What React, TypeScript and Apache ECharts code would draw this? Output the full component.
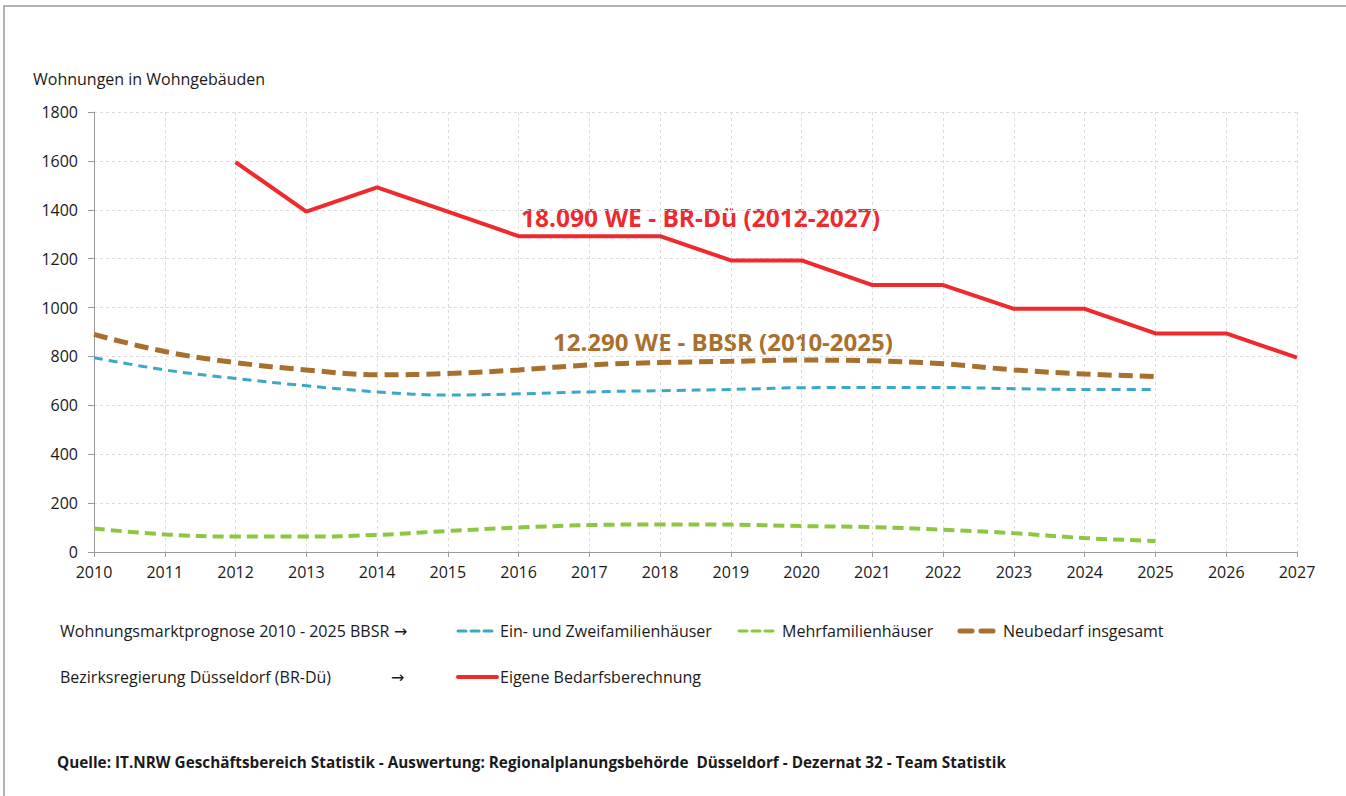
import React, { useEffect, useRef } from "react";
import * as echarts from "echarts";

const years = ["2010","2011","2012","2013","2014","2015","2016","2017","2018","2019","2020","2021","2022","2023","2024","2025","2026","2027"];
const einZwei = [795, 745, 710, 680, 655, 642, 647, 655, 660, 665, 672, 673, 673, 668, 665, 665, null, null];
const mehr = [96, 72, 63, 63, 70, 86, 100, 110, 113, 112, 106, 102, 91, 77, 57, 45, null, null];
const neubedarf = [890, 820, 775, 745, 725, 730, 745, 765, 775, 780, 785, 782, 770, 745, 728, 718, null, null];
const eigene = [null, null, 1595, 1392, 1492, 1392, 1292, 1292, 1292, 1193, 1193, 1092, 1092, 995, 995, 894, 894, 795];

const yTicks = { min: 0, max: 1800, interval: 200 };

const RED = "#EE2A2E";
const BLUE = "#3BA7C9";
const GREEN = "#8DC641";
const BROWN = "#A8702F";
const FONT = "'Open Sans', 'Noto Sans', sans-serif";
const ARROW_FONT = "'DejaVu Sans', sans-serif";
const TXT = "#1a1a1a";

export default function App() {
  const ref = useRef<HTMLDivElement>(null);
  useEffect(() => {
    const chart = echarts.init(ref.current!, null, { renderer: "svg" });
    const legendText = (x: number, y: number, text: string, font: string = `16px ${FONT}`) => ({
      type: "text", x, y,
      style: { text, fill: TXT, font, verticalAlign: "middle", align: "left" },
    });
    const legendLine = (x: number, y: number, len: number, color: string, width: number, dash: number[] | null) => ({
      type: "line",
      shape: { x1: x, y1: y, x2: x + len, y2: y },
      style: { stroke: color, lineWidth: width, lineDash: dash || undefined, lineCap: "round" },
    });
    chart.setOption({
      animation: false,
      backgroundColor: "#ffffff",
      grid: { left: 94, right: 49, top: 112, bottom: 244, containLabel: false },
      xAxis: {
        type: "category",
        data: years,
        boundaryGap: false,
        axisLine: { show: true, lineStyle: { color: "#9a9a9a", width: 1 } },
        axisTick: { show: true, length: 5, lineStyle: { color: "#9a9a9a" } },
        axisLabel: { color: TXT, fontSize: 16, fontFamily: FONT, margin: 12 },
        splitLine: { show: true, lineStyle: { color: "#dcdcdc", type: [3, 3] } },
      },
      yAxis: {
        type: "value",
        ...yTicks,
        axisLine: { show: true, lineStyle: { color: "#9a9a9a", width: 1 } },
        axisTick: { show: true, length: 6, lineStyle: { color: "#9a9a9a" } },
        axisLabel: { color: TXT, fontSize: 16, fontFamily: FONT, margin: 16, formatter: (v: number) => String(v) },
        splitLine: { show: true, lineStyle: { color: "#dcdcdc", type: [3, 3] } },
      },
      series: [
        {
          name: "Ein- und Zweifamilienhäuser", type: "line", data: einZwei, smooth: 0.4,
          symbol: "none", lineStyle: { color: BLUE, width: 3, type: [9, 6] },
        },
        {
          name: "Mehrfamilienhäuser", type: "line", data: mehr, smooth: 0.4,
          symbol: "none", lineStyle: { color: GREEN, width: 4, type: [11, 6] },
        },
        {
          name: "Neubedarf insgesamt", type: "line", data: neubedarf, smooth: 0.4,
          symbol: "none", lineStyle: { color: BROWN, width: 5, type: [14, 7] },
        },
        {
          name: "Eigene Bedarfsberechnung", type: "line", data: eigene,
          symbol: "none", lineStyle: { color: RED, width: 4 },
        },
      ],
      graphic: [
        {
          type: "polyline",
          shape: { points: [[4, 796], [4, 6], [1346, 6]] },
          style: { stroke: "#9a9a9a", lineWidth: 1.5, fill: "none" },
        },
        legendText(33, 79, "Wohnungen in Wohngebäuden"),
        { type: "text", x: 521, y: 217, style: { text: "18.090 WE - BR-Dü (2012-2027)", fill: RED, font: `bold 24.5px ${FONT}`, verticalAlign: "middle" } },
        { type: "text", x: 553, y: 341, style: { text: "12.290 WE - BBSR (2010-2025)", fill: BROWN, font: `bold 24px ${FONT}`, verticalAlign: "middle" } },
        legendText(60, 631, "Wohnungsmarktprognose 2010 - 2025 BBSR"),
        legendText(394, 631, "\u2192", `16px ${ARROW_FONT}`),
        legendLine(458, 631, 39, BLUE, 3, [8, 5]),
        legendText(500, 631, "Ein- und Zweifamilienhäuser"),
        legendLine(739, 631, 39, GREEN, 3, [8, 5]),
        legendText(782, 631, "Mehrfamilienhäuser"),
        legendLine(960, 631, 33, BROWN, 5, [12, 9]),
        legendText(1003, 631, "Neubedarf insgesamt"),
        legendText(60, 677, "Bezirksregierung Düsseldorf (BR-Dü)"),
        legendText(391, 677, "\u2192", `16px ${ARROW_FONT}`),
        legendLine(458, 677, 39, RED, 4, null),
        legendText(500, 677, "Eigene Bedarfsberechnung"),
        legendText(57, 762, "Quelle: IT.NRW Geschäftsbereich Statistik - Auswertung: Regionalplanungsbehörde  Düsseldorf - Dezernat 32 - Team Statistik", `bold 15.3px ${FONT}`),
      ],
    });
    return () => chart.dispose();
  }, []);
  return <div ref={ref} style={{ position: "fixed", left: 0, top: 0, width: 1346, height: 796 }} />;
}
